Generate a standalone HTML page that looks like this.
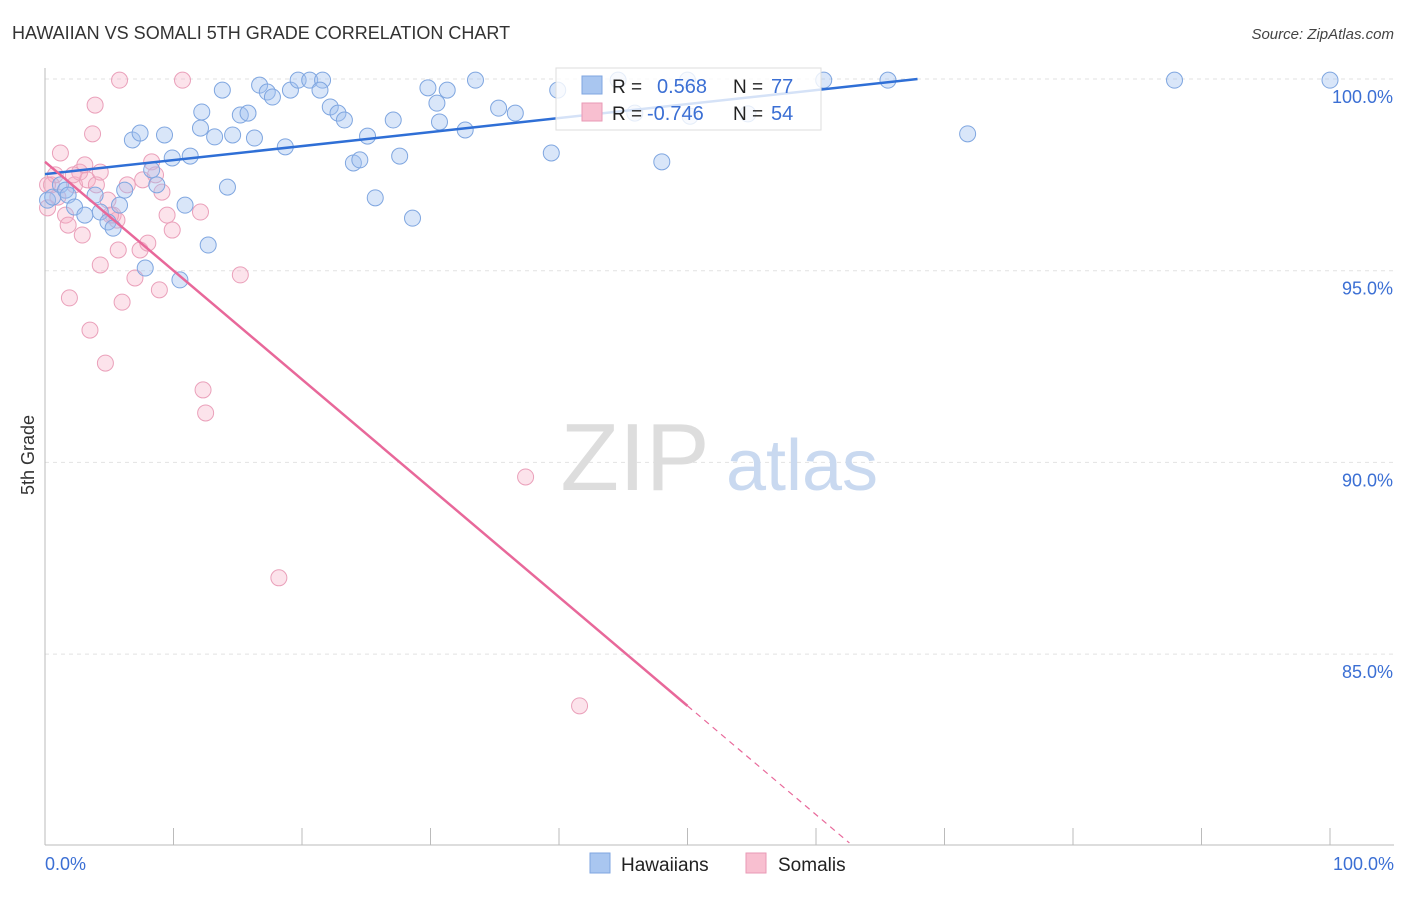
<!DOCTYPE html>
<html><head><meta charset="utf-8"><style>
body{margin:0;background:#fff;font-family:"Liberation Sans",sans-serif;}
svg text{font-family:"Liberation Sans",sans-serif;}
</style></head><body>
<svg id="chart" width="1406" height="892" viewBox="0 0 1406 892" xmlns="http://www.w3.org/2000/svg">
<text x="12" y="39" font-size="18" fill="#333">HAWAIIAN VS SOMALI 5TH GRADE CORRELATION CHART</text>
<text x="1394" y="39" font-size="15" fill="#444" text-anchor="end" font-style="italic">Source: ZipAtlas.com</text>
<text transform="translate(34,455) rotate(-90)" font-size="18" fill="#333" text-anchor="middle">5th Grade</text>
<g id="grid"></g>
<g>
<text x="635" y="490" font-size="96" fill="#ddd" font-family="Liberation Serif, serif" text-anchor="middle">ZIP</text>
<text x="802" y="490" font-size="72" fill="#c9d9f0" text-anchor="middle">atlas</text>
</g>
<line x1="45" y1="68" x2="45" y2="845" stroke="#bbb"/>
<line x1="45" y1="845" x2="1394" y2="845" stroke="#bbb"/>
<g id="xticks"></g>
<g id="pinkPts"></g>
<g id="bluePts"></g>
<g id="trends"></g>
<g id="ylabels"></g>
<text x="45" y="870" font-size="18" fill="#3b6fd4">0.0%</text>
<text x="1394" y="870" font-size="18" fill="#3b6fd4" text-anchor="end">100.0%</text>
<g>
<rect x="556" y="68" width="265" height="62" fill="#fff" fill-opacity="0.8" stroke="#ddd"/>
<rect x="582" y="76" width="20" height="18" fill="#a9c6f0" stroke="#7fa6e0"/>
<text x="612" y="93" font-size="19" fill="#222">R =</text>
<text x="657" y="93" font-size="20" fill="#3b6fd4">0.568</text>
<text x="733" y="93" font-size="19" fill="#222">N =</text>
<text x="771" y="93" font-size="20" fill="#3b6fd4">77</text>
<rect x="582" y="103" width="20" height="18" fill="#f8bfd0" stroke="#e99ab6"/>
<text x="612" y="120" font-size="19" fill="#222">R =</text>
<text x="647" y="120" font-size="20" fill="#3b6fd4">-0.746</text>
<text x="733" y="120" font-size="19" fill="#222">N =</text>
<text x="771" y="120" font-size="20" fill="#3b6fd4">54</text>
</g>
<g>
<rect x="590" y="853" width="20" height="20" fill="#a9c6f0" stroke="#7fa6e0"/>
<text x="621" y="871" font-size="19" fill="#222">Hawaiians</text>
</g>
<g>
<rect x="746" y="853" width="20" height="20" fill="#f8bfd0" stroke="#e99ab6"/>
<text x="778" y="871" font-size="19" fill="#222">Somalis</text>
</g>
</svg>
<script>
const blueX=[0.2,0.6,1.2,1.6,1.8,2.3,3.1,3.9,4.3,4.9,5.3,5.8,6.2,6.8,7.4,7.8,8.3,8.7,9.3,9.9,10.5,10.9,11.3,12.1,12.2,12.7,13.2,13.8,14.2,14.6,15.2,15.8,16.3,16.7,17.3,17.7,18.7,19.1,19.7,20.6,21.6,21.4,22.2,22.8,23.3,24.0,24.5,25.1,25.7,27.1,27.6,28.6,29.8,30.5,30.7,31.3,32.7,33.5,35.3,36.6,39.4,39.9,44.6,45.9,48.0,50.0,50.2,54.7,60.6,65.6,71.8,87.9,100];
const blueY=[96.84,96.92,97.24,97.10,96.97,96.66,96.45,96.97,96.53,96.27,96.11,96.71,97.10,98.41,98.59,95.07,97.63,97.24,98.54,97.94,94.76,96.71,97.99,98.72,99.14,95.67,98.49,99.71,97.18,98.54,99.06,99.11,98.46,99.84,99.66,99.53,98.23,99.71,99.97,99.97,99.97,99.71,99.27,99.11,98.93,97.81,97.89,98.51,96.90,98.93,97.99,96.37,99.77,99.37,98.88,99.71,98.67,99.97,99.24,99.11,98.07,99.71,99.97,99.11,97.84,99.97,99.03,99.09,99.97,99.97,98.57,99.97,99.97];
const pinkX=[0.2,0.5,0.8,1.2,1.6,1.8,1.9,2.3,2.7,2.9,3.1,3.3,3.5,3.7,3.9,4.0,4.3,4.3,4.7,4.9,5.3,5.6,5.7,5.8,6.0,6.4,7.0,7.4,7.6,8.0,8.3,8.6,8.9,9.1,9.5,9.9,10.7,12.1,12.3,12.5,15.2,18.2,37.4,41.6,0.2,1.0,2.2,5.1];
const pinkY=[96.64,97.24,97.50,98.07,96.45,96.19,94.29,97.24,97.57,95.93,97.76,97.37,93.45,98.57,99.32,97.24,97.57,95.15,92.59,96.84,96.45,96.32,95.54,99.97,94.18,97.24,94.81,95.54,97.37,95.72,97.84,97.50,94.50,97.05,96.45,96.06,99.97,96.53,91.89,91.29,94.89,86.99,89.62,83.65,97.24,96.92,97.50,96.45];
const yTicks=[100,95,90,85];
const yTickLabels=["100.0%","95.0%","90.0%","85.0%"];
const blueTrend=[[0,97.52],[67.9,100]];
const pinkTrend=[[0,97.84],[50,83.65]];
const pinkTrendDashEnd=62.6;
const NS="http://www.w3.org/2000/svg";
const sx=v=>45+v*12.85;
const sy=v=>79+(100-v)*38.34;
function mk(tag,attrs,parent){const e=document.createElementNS(NS,tag);for(const k in attrs)e.setAttribute(k,attrs[k]);parent.appendChild(e);return e;}
const grid=document.getElementById('grid'),yl=document.getElementById('ylabels');
yTicks.forEach((t,i)=>{
 const l=mk('line',{x1:45,x2:1394,y1:sy(t),y2:sy(t),stroke:'#e2e2e2','stroke-dasharray':'4,4'},grid);
 
 
 const tx=mk('text',{x:1393,y:sy(t)+24,'font-size':18,fill:'#3b6fd4','text-anchor':'end'},yl);
 tx.textContent=yTickLabels[i];
 
 
});
const xt=document.getElementById('xticks');
for(let i=0;i<=10;i++){const l=mk('line',{x1:sx(i*10),x2:sx(i*10),y1:828,y2:845,stroke:'#bbb'},xt);
 
 }
const pp=document.getElementById('pinkPts');
pinkX.forEach((x,i)=>{const c=mk('circle',{cx:sx(x),cy:sy(pinkY[i]),r:8,fill:'rgba(246,176,198,0.35)',stroke:'#eaa0ba','stroke-width':1},pp);
 
 });
const bp=document.getElementById('bluePts');
blueX.forEach((x,i)=>{const c=mk('circle',{cx:sx(x),cy:sy(blueY[i]),r:8,fill:'rgba(160,192,240,0.4)',stroke:'#7fa6e0','stroke-width':1},bp);
 
 });
const tr=document.getElementById('trends');
const b=mk('line',{x1:sx(blueTrend[0][0]),y1:sy(blueTrend[0][1]),x2:sx(blueTrend[1][0]),y2:sy(blueTrend[1][1]),stroke:'#2f6fd6','stroke-width':2.5},tr);


const p=mk('line',{x1:sx(pinkTrend[0][0]),y1:sy(pinkTrend[0][1]),x2:sx(pinkTrend[1][0]),y2:sy(pinkTrend[1][1]),stroke:'#e8689a','stroke-width':2.5},tr);


const slope=(pinkTrend[1][1]-pinkTrend[0][1])/(pinkTrend[1][0]-pinkTrend[0][0]);
const pd=mk('line',{x1:sx(pinkTrend[1][0]),y1:sy(pinkTrend[1][1]),x2:sx(pinkTrendDashEnd),y2:sy(pinkTrend[0][1]+slope*pinkTrendDashEnd),stroke:'#e8689a','stroke-width':1.2,'stroke-dasharray':'6,5'},tr);


</script>
</body></html>
